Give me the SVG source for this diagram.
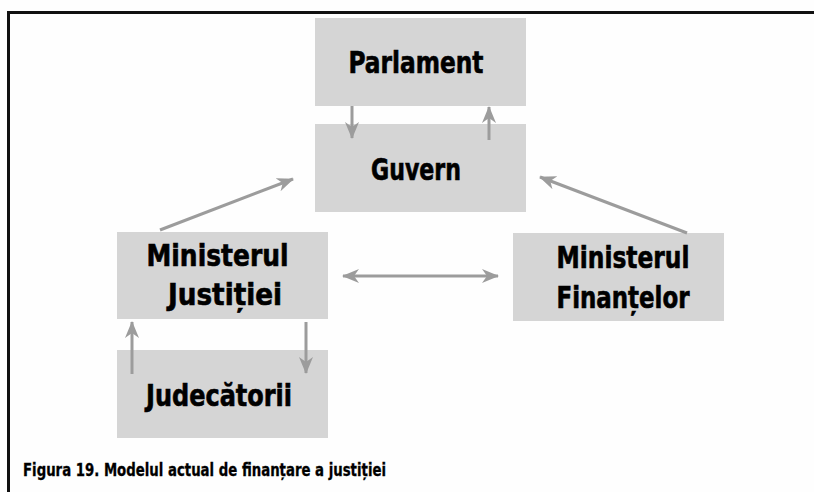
<svg xmlns="http://www.w3.org/2000/svg" width="814" height="492" viewBox="0 0 814 492">
<style>
.box{fill:#d5d5d5}
.t{font-family:"Liberation Sans Narrow","DejaVu Sans Condensed","DejaVu Sans",sans-serif;font-weight:bold;fill:#000;text-anchor:middle;stroke:#000;stroke-width:0.6}
.n{font-size:30px}
.cap{font-family:"Liberation Sans Narrow","DejaVu Sans Condensed","DejaVu Sans",sans-serif;font-weight:bold;font-size:17px;fill:#000;stroke:#000;stroke-width:0.3}
.c{stroke:#9c9c9c;stroke-width:3;fill:none}
</style>
<defs>
<marker id="ah" markerUnits="userSpaceOnUse" markerWidth="18" markerHeight="15" refX="16" refY="7.5" orient="auto-start-reverse" viewBox="0 0 18 15">
<path d="M0,0.5 L17,7.5 L0,14.5 L5,7.5 Z" fill="#9c9c9c"/>
</marker>
</defs>
<rect width="814" height="492" fill="#fefefe"/>
<g id="frame">
<line x1="7" y1="12.5" x2="814" y2="12.5" stroke="#111" stroke-width="3"/>
<line x1="8.5" y1="11" x2="8.5" y2="492" stroke="#111" stroke-width="3"/>
</g>
<g id="parlament">
<rect class="box" x="315" y="18" width="211" height="88"/>
<text class="t n" x="416" y="73" textLength="135" lengthAdjust="spacingAndGlyphs">Parlament</text>
</g>
<g id="guvern">
<rect class="box" x="315" y="124" width="211" height="88"/>
<text class="t n" x="416" y="180" textLength="90" lengthAdjust="spacingAndGlyphs">Guvern</text>
</g>
<g id="ministerul-justitiei">
<rect class="box" x="117" y="232" width="211" height="87"/>
<text class="t n" x="217.5" y="266" textLength="142" lengthAdjust="spacingAndGlyphs">Ministerul</text>
<text class="t n" x="225" y="305" textLength="114" lengthAdjust="spacingAndGlyphs">Justiției</text>
</g>
<g id="ministerul-finantelor">
<rect class="box" x="513" y="233" width="211" height="88"/>
<text class="t n" x="623" y="268" textLength="133" lengthAdjust="spacingAndGlyphs">Ministerul</text>
<text class="t n" x="623" y="308" textLength="133" lengthAdjust="spacingAndGlyphs">Finanțelor</text>
</g>
<g id="judecatorii">
<rect class="box" x="117" y="350" width="211" height="88"/>
<text class="t n" x="219" y="406" textLength="146" lengthAdjust="spacingAndGlyphs">Judecătorii</text>
</g>
<g id="connectors">
<line class="c" x1="352" y1="106" x2="352" y2="138" marker-end="url(#ah)"/>
<line class="c" x1="489" y1="140" x2="489" y2="107" marker-end="url(#ah)"/>
<line class="c" x1="160" y1="230" x2="293" y2="179" marker-end="url(#ah)"/>
<line class="c" x1="687" y1="233" x2="540" y2="177" marker-end="url(#ah)"/>
<line class="c" x1="343" y1="276" x2="498" y2="276" marker-start="url(#ah)" marker-end="url(#ah)"/>
<line class="c" x1="132" y1="374" x2="132" y2="322" marker-end="url(#ah)"/>
<line class="c" x1="306" y1="322" x2="306" y2="373" marker-end="url(#ah)"/>
</g>
<text class="cap" x="23" y="476" textLength="363" lengthAdjust="spacingAndGlyphs">Figura 19. Modelul actual de finanțare a justiției</text>
</svg>
